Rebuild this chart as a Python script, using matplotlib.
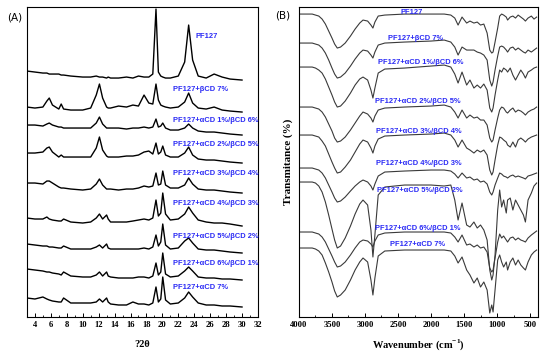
import matplotlib
matplotlib.use("Agg")
import matplotlib.pyplot as plt
from matplotlib.ticker import MultipleLocator

# ---------------- XRD data (panel A), intensity in arbitrary offset units ----------------
two_theta = [3.0, 4, 5, 5.5, 5.8, 6.2, 7, 7.3, 7.6, 8.5,
             10, 11, 11.7, 12.1, 12.5, 13.0, 13.2, 13.5, 14.5, 15.5,
             16.3, 17, 17.7, 18.3, 18.8, 19.2, 19.5, 19.8, 20.05, 20.4,
             21, 22, 22.8, 23.3, 23.8, 24.5, 25.5, 26.5, 27.5, 28.5, 30]

xrd_pf127 = [249, 248, 247, 247, 246, 246, 246, 245, 245, 244,
             243, 243, 244, 243, 243, 242, 243, 242, 242, 243,
             242, 244, 243, 243, 246, 311, 248, 244, 243, 242,
             242, 244, 258, 295, 260, 244, 242, 246, 243, 241, 240]
xrd_b7 = [213, 212, 213, 219, 222, 215, 211, 216, 211, 210,
          210, 212, 225, 236, 222, 213, 212, 212, 214, 213,
          215, 214, 225, 217, 216, 236, 220, 215, 214, 213,
          212, 213, 218, 227, 217, 212, 211, 213, 210, 209, 208]
xrd_a1b6 = [195, 195, 194, 196, 197, 195, 193, 193, 192, 192,
            192, 192, 197, 203, 196, 192, 192, 192, 192, 191,
            192, 192, 193, 192, 193, 201, 193, 194, 197, 192,
            190, 190, 192, 196, 192, 189, 188, 188, 187, 186, 185]
xrd_a2b5 = [167, 167, 168, 172, 173, 168, 163, 165, 163, 163,
            163, 163, 172, 183, 170, 164, 163, 163, 163, 164,
            164, 165, 168, 169, 166, 177, 166, 168, 174, 165,
            163, 163, 167, 173, 165, 161, 160, 160, 159, 158, 157]
xrd_a3b4 = [137, 137, 136, 139, 139, 137, 133, 132, 132, 131,
            130, 131, 136, 141, 135, 131, 131, 131, 130, 131,
            131, 132, 134, 133, 134, 147, 135, 136, 149, 135,
            132, 132, 135, 142, 136, 131, 130, 130, 129, 128, 127]
xrd_a4b3 = [102, 101, 101, 103, 101, 100, 99, 99, 101, 98,
            97, 98, 102, 106, 101, 105, 101, 98, 98, 98,
            99, 100, 101, 100, 102, 120, 104, 107, 127, 106,
            100, 101, 106, 113, 107, 100, 98, 97, 97, 96, 94]
xrd_a5b2 = [76, 75, 74, 74, 73, 73, 72, 72, 74, 71,
            71, 71, 73, 75, 72, 76, 72, 71, 71, 71,
            71, 71, 72, 71, 73, 85, 74, 78, 96, 75,
            71, 72, 79, 82, 77, 71, 70, 70, 69, 68, 67]
xrd_a6b1 = [51, 50, 49, 48, 48, 47, 46, 45, 48, 44,
            43, 43, 45, 48, 44, 48, 44, 43, 42, 42,
            42, 43, 43, 42, 44, 57, 45, 48, 67, 46,
            43, 44, 49, 53, 49, 43, 42, 42, 41, 41, 40]
xrd_a7 = [22, 21, 23, 21, 20, 19, 18, 18, 22, 17,
          17, 17, 18, 21, 18, 22, 18, 16, 15, 15,
          18, 16, 16, 15, 17, 33, 18, 21, 43, 20,
          16, 17, 22, 28, 23, 17, 15, 15, 14, 14, 13]

xrd_labels = ["PF127", "PF127+\u03b2CD 7%", "PF127+\u03b1CD 1%/\u03b2CD 6%",
              "PF127+\u03b1CD 2%/\u03b2CD 5%", "PF127+\u03b1CD 3%/\u03b2CD 4%",
              "PF127+\u03b1CD 4%/\u03b2CD 3%", "PF127+\u03b1CD 5%/\u03b2CD 2%",
              "PF127+\u03b1CD 6%/\u03b2CD 1%", "PF127+\u03b1CD 7%"]
xrd_label_x = [24.2, 21.3, 21.3, 21.3, 21.3, 21.3, 21.3, 21.3, 21.3]
xrd_label_y = [284, 231, 200, 176, 147, 117, 84, 57, 33]

# ---------------- FTIR data (panel B), transmittance in arbitrary offset units ----------------
wavenumber = [4000, 3800, 3750, 3700, 3650, 3600, 3550, 3500, 3460, 3420,
              3370, 3300, 3220, 3150, 3080, 3030, 2960, 2910, 2880, 2850,
              2800, 2700, 2400, 2000, 1800, 1700, 1640, 1590, 1530, 1460,
              1410, 1350, 1300, 1250, 1200, 1150, 1110, 1080, 1060, 1030,
              990, 960, 930, 900, 860, 840, 800, 760, 720, 680,
              640, 600, 570, 530, 480, 440, 400]

ftir_pf127 = [306, 306, 305, 304, 301, 296, 289, 282, 276, 272,
              273, 277, 284, 291, 297, 300, 299, 295, 292, 298,
              304, 305, 306, 306, 306, 305, 302, 295, 303, 297,
              299, 297, 298, 295, 296, 287, 270, 267, 268, 278,
              292, 304, 306, 305, 303, 300, 303, 304, 302, 305,
              303, 301, 299, 302, 304, 301, 303]
ftir_b7 = [277, 277, 276, 275, 272, 267, 260, 252, 246, 242,
           243, 247, 254, 261, 267, 270, 269, 265, 262, 268,
           275, 277, 278, 279, 280, 278, 273, 265, 273, 270,
           270, 270, 268, 267, 265, 260, 240, 234, 238, 250,
           264, 273, 274, 273, 270, 268, 272, 273, 270, 272,
           270, 268, 267, 270, 268, 270, 272]
ftir_a1b6 = [253, 253, 252, 250, 247, 241, 233, 225, 218, 213,
             214, 219, 227, 235, 241, 243, 240, 230, 222, 232,
             247, 251, 252, 254, 255, 253, 246, 237, 248, 235,
             240, 232, 235, 232, 236, 230, 212, 208, 212, 225,
             240, 250, 248, 252, 250, 248, 252, 245, 240, 245,
             250, 246, 242, 248, 250, 252, 253]
ftir_a2b5 = [213, 213, 212, 211, 208, 203, 196, 189, 182, 178,
             179, 183, 190, 197, 204, 208, 206, 202, 198, 204,
             210, 212, 213, 214, 215, 213, 208, 202, 210, 202,
             205, 202, 203, 200, 200, 195, 182, 178, 180, 190,
             202, 210, 213, 212, 208, 207, 210, 212, 208, 210,
             209, 207, 205, 208, 210, 211, 213]
ftir_a3b4 = [185, 185, 184, 183, 179, 174, 166, 158, 152, 147,
             148, 153, 160, 168, 176, 180, 178, 172, 167, 174,
             181, 184, 185, 186, 187, 185, 180, 173, 180, 172,
             170, 167, 170, 168, 170, 165, 150, 145, 148, 160,
             175, 183, 182, 180, 178, 175, 173, 178, 173, 180,
             182, 180, 178, 181, 183, 184, 185]
ftir_a4b3 = [152, 152, 151, 150, 147, 142, 135, 128, 122, 118,
             119, 123, 129, 134, 138, 140, 138, 134, 130, 136,
             144, 148, 149, 150, 150, 149, 146, 142, 147, 142,
             143, 140, 141, 138, 139, 136, 128, 125, 128, 135,
             142, 147, 146, 144, 143, 142, 144, 145, 143, 144,
             143, 142, 141, 144, 145, 146, 147]
ftir_a5b2 = [138, 138, 137, 134, 128, 118, 105, 91, 80, 72,
             74, 82, 94, 106, 116, 120, 115, 90, 63, 85,
             125, 133, 135, 135, 134, 135, 120, 100, 117, 95,
             93, 98, 92, 95, 90, 80, 50, 40, 45, 65,
             110, 130, 113, 120, 107, 120, 122, 110, 120, 115,
             110, 105, 98, 120, 127, 134, 137]
ftir_a6b1 = [88, 88, 87, 86, 83, 78, 71, 64, 58, 53,
             54, 58, 65, 72, 78, 80, 79, 76, 73, 79,
             85, 87, 88, 88, 88, 87, 83, 78, 85, 75,
             76, 73, 75, 72, 73, 68, 52, 48, 50, 62,
             78, 86, 82, 84, 80, 78, 82, 83, 80, 82,
             80, 79, 78, 82, 85, 87, 89]
ftir_a7 = [72, 72, 71, 69, 65, 57, 48, 38, 29, 23,
           25, 30, 40, 50, 58, 62, 58, 40, 25, 42,
           64, 69, 70, 70, 70, 69, 64, 57, 63, 50,
           45, 37, 42, 33, 38, 30, 7, 15, 8, 30,
           60, 65, 58, 53, 58, 50, 58, 62, 55, 60,
           55, 52, 50, 58, 65, 68, 70]

ftir_label_x = [2290, 2240, 2150, 2195, 2180, 2180, 2165, 2195, 2210]
ftir_label_y = [308, 282, 258, 219, 189, 157, 130, 92, 76]

xrd_traces = [xrd_pf127, xrd_b7, xrd_a1b6, xrd_a2b5, xrd_a3b4,
              xrd_a4b3, xrd_a5b2, xrd_a6b1, xrd_a7]
ftir_traces = [ftir_pf127, ftir_b7, ftir_a1b6, ftir_a2b5, ftir_a3b4,
               ftir_a4b3, ftir_a5b2, ftir_a6b1, ftir_a7]

label_font = ["Liberation Sans", "DejaVu Sans"]
serif_font = ["Liberation Serif", "DejaVu Serif"]
blue = "#2b2bf5"
label_size = 5.4

fig = plt.figure(figsize=(5.5, 3.53), dpi=100)
axA = fig.add_axes([0.049, 0.102, 0.420, 0.878])
axB = fig.add_axes([0.5436, 0.102, 0.4345, 0.878])

# panel A
for y in xrd_traces:
    axA.plot(two_theta, y, color="black", lw=1.0)
for lab, lx, ly in zip(xrd_labels, xrd_label_x, xrd_label_y):
    axA.text(lx, ly, lab, color=blue, fontsize=label_size, fontweight="bold",
             family=label_font, va="center", ha="left")
axA.set_xlim(3, 32)
axA.set_ylim(3, 313)
axA.set_yticks([])
axA.xaxis.set_major_locator(MultipleLocator(2))
axA.xaxis.set_minor_locator(MultipleLocator(1))
axA.tick_params(axis="x", which="major", direction="in", length=3, width=0.7, pad=3)
axA.tick_params(axis="x", which="minor", direction="in", length=1.6, width=0.6)
for t in axA.get_xticklabels():
    t.set_family(serif_font)
    t.set_fontweight("bold")
    t.set_fontsize(6.2)
axA.set_xlabel("?2\u03b8", family=serif_font, fontweight="bold", fontsize=7.5, labelpad=8)
fig.text(0.013, 0.95, "(A)", fontsize=7.5, family="DejaVu Sans", va="center")

# panel B
for y in ftir_traces:
    axB.plot(wavenumber, y, color="#3a3a3a", lw=0.8)
for lab, lx, ly in zip(xrd_labels, ftir_label_x, ftir_label_y):
    axB.text(lx, ly, lab, color=blue, fontsize=label_size, fontweight="bold",
             family=label_font, va="center", ha="center")
axB.set_xlim(4000, 380)
axB.set_ylim(3, 313)
axB.set_yticks([])
axB.xaxis.set_major_locator(MultipleLocator(500))
axB.xaxis.set_minor_locator(MultipleLocator(250))
axB.tick_params(axis="x", which="major", direction="in", length=3, width=0.7, pad=3)
axB.tick_params(axis="x", which="minor", direction="in", length=1.6, width=0.6)
for t in axB.get_xticklabels():
    t.set_family(serif_font)
    t.set_fontweight("bold")
    t.set_fontsize(6.2)
axB.set_xlabel("Wavenumber (cm$^{\\mathregular{-1}}$)", family=serif_font,
               fontweight="bold", fontsize=7.5, labelpad=6)
axB.set_ylabel("Transmitance (%)", family=serif_font, fontweight="bold",
               fontsize=8, labelpad=4)
fig.text(0.50, 0.955, "(B)", fontsize=7.5, family="DejaVu Sans", va="center")

for ax in (axA, axB):
    for s in ax.spines.values():
        s.set_linewidth(0.8)

fig.savefig("out.png", dpi=100)
